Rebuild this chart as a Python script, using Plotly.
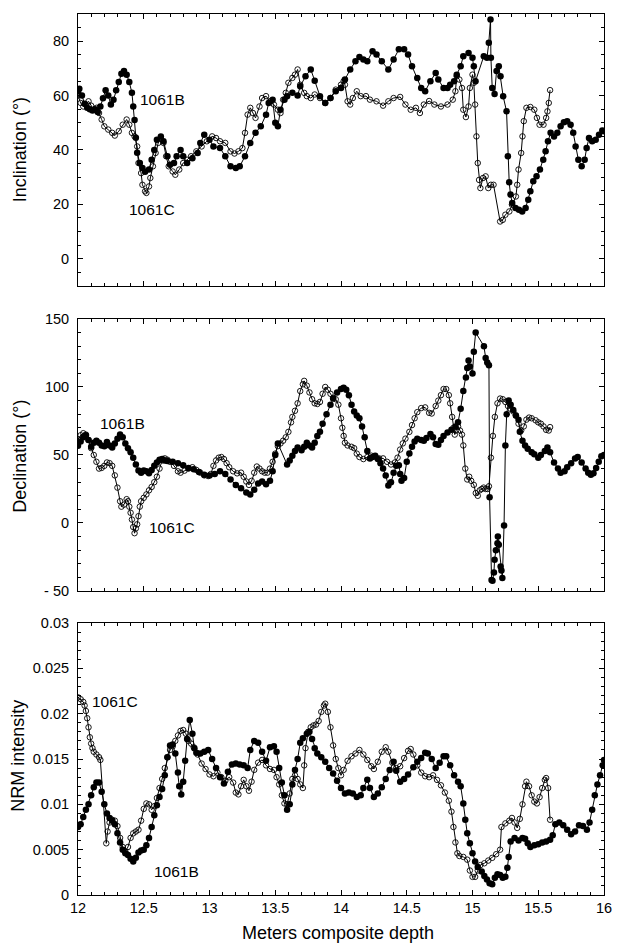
import plotly.graph_objects as go

# ---------------- Inclination ----------------
inc_b_x = [12.00, 12.01, 12.03, 12.05, 12.07, 12.09, 12.11, 12.13, 12.15, 12.17, 12.19, 12.21, 12.23, 12.25, 12.27, 12.29,
           12.31, 12.33, 12.35, 12.37, 12.39, 12.41, 12.42, 12.43, 12.44, 12.45, 12.47, 12.49, 12.51, 12.54, 12.56, 12.58,
           12.60, 12.63, 12.65, 12.68, 12.70, 12.73, 12.75, 12.78, 12.80, 12.83, 12.87, 12.91, 12.93, 12.96, 13.00, 13.03,
           13.08, 13.12, 13.16, 13.20, 13.23, 13.27, 13.31, 13.35, 13.39, 13.43, 13.45, 13.48, 13.50, 13.52, 13.54, 13.57,
           13.59, 13.63, 13.67, 13.69, 13.73, 13.77, 13.80, 13.84, 13.88, 13.92, 13.96, 14.00, 14.03, 14.07, 14.11, 14.14,
           14.17, 14.20, 14.24, 14.27, 14.31, 14.36, 14.40, 14.44, 14.48, 14.51, 14.54, 14.58, 14.61, 14.64, 14.68, 14.72,
           14.74, 14.78, 14.81, 14.83, 14.86, 14.88, 14.91, 14.93, 14.97, 15.00, 15.01, 15.023, 15.086, 15.11, 15.124, 15.137,
           15.14, 15.15, 15.168, 15.183, 15.20, 15.213, 15.233, 15.259, 15.269, 15.279, 15.289, 15.302, 15.327, 15.353, 15.378, 15.404,
           15.424, 15.44, 15.462, 15.487, 15.513, 15.538, 15.556, 15.574, 15.594, 15.62, 15.645, 15.67, 15.695, 15.72, 15.746, 15.766,
           15.784, 15.805, 15.83, 15.853, 15.868, 15.886, 15.91, 15.937, 15.962, 15.987, 16.00]
inc_b_y = [61.5, 62.5, 60, 57, 55.5, 55, 54.5, 55, 54, 56, 59, 62, 60, 56.7, 58.5, 62,
           65, 68, 69, 67.7, 65, 61, 56, 51, 44.5, 39, 35.2, 33.4, 32, 32.8, 36.4, 40,
           43.8, 45, 43.2, 37.7, 34.6, 35.2, 37.7, 40, 37.7, 35.2, 37, 38.9, 42.6, 45.6, 43.8, 41.3,
           40.7, 37.7, 34, 33.4, 34, 37.7, 42.6, 46.3, 48.7, 53, 57.3, 58.5, 50, 48.7, 54.8, 58.5,
           59.8, 61, 60, 63.4, 67.1, 69.6, 65.5, 59.8, 57.3, 59.1, 61.6, 62.8, 65.9, 69.6, 72.6, 74.2,
           73.3, 72.6, 76.3, 75.1, 72.6, 69.6, 73.3, 77, 77, 75.1, 70.8, 66.5, 62.8, 61.6, 65.3, 68.3,
           65.9, 62.8, 62.8, 64, 65.3, 67.7, 70.8, 74.5, 75.7, 73.9, 70.8, 65.3, 74.5, 73.9, 79.4, 88,
           73.9, 62.8, 60.6, 69, 70.8, 67.1, 59.8, 54.2, 37.7, 28.1, 23.6, 20.5, 18.7, 18, 17.4, 18.7,
           21.7, 24.8, 28.5, 30.3, 32.8, 36.4, 39.5, 43.2, 46.3, 45, 46.3, 48.7, 50.2, 50.6, 49.3, 46.3,
           41.3, 36.4, 34, 36.4, 40.7, 44.4, 43.2, 43.8, 45.6, 47.2, 46.9]

inc_c_x = [12.00, 12.02, 12.04, 12.06, 12.08, 12.10, 12.12, 12.14, 12.16, 12.18, 12.20, 12.23, 12.26, 12.28, 12.31, 12.34,
           12.37, 12.39, 12.41, 12.43, 12.45, 12.46, 12.48, 12.49, 12.51, 12.52, 12.54, 12.55, 12.57, 12.59, 12.61, 12.63,
           12.65, 12.67, 12.69, 12.72, 12.74, 12.77, 12.80, 12.83, 12.86, 12.90, 12.94, 12.98, 13.02, 13.05, 13.08, 13.12,
           13.16, 13.19, 13.22, 13.25, 13.27, 13.29, 13.31, 13.33, 13.35, 13.38, 13.40, 13.43, 13.46, 13.49, 13.52, 13.54,
           13.56, 13.58, 13.60, 13.63, 13.65, 13.67, 13.69, 13.72, 13.74, 13.77, 13.80, 13.84, 13.88, 13.92, 13.96, 14.00,
           14.02, 14.03, 14.05, 14.07, 14.09, 14.12, 14.15, 14.19, 14.22, 14.27, 14.32, 14.36, 14.40, 14.45, 14.49, 14.53,
           14.57, 14.60, 14.63, 14.67, 14.71, 14.76, 14.81, 14.85, 14.87, 14.88, 14.90, 14.92, 14.93, 14.95, 14.97, 14.98,
           15.00, 15.01, 15.02, 15.03, 15.04, 15.05, 15.06, 15.08, 15.10, 15.12, 15.14, 15.16, 15.21, 15.23, 15.25, 15.28,
           15.30, 15.33, 15.34, 15.35, 15.37, 15.38, 15.39, 15.41, 15.44, 15.47, 15.49, 15.51, 15.54, 15.56, 15.57, 15.58, 15.59]
inc_c_y = [60, 57.3, 56, 56.7, 57.9, 56.3, 54.8, 55.5, 53.6, 51.2, 48.7, 47.5, 46.3, 45.3, 46.9, 49.3,
           51.2, 49.3, 46.3, 45, 41.3, 35.2, 31.5, 27.2, 24.8, 24.2, 26.6, 29.7, 34, 38.9, 42.6, 44.4,
           42.6, 37.7, 34, 32.1, 30.9, 32.8, 35.2, 36.4, 37.7, 39.5, 41.3, 43.2, 45, 44.4, 43.2, 42.6,
           39.5, 38.7, 39.5, 40.7, 46.3, 53, 55.5, 53.6, 51.8, 56, 59.1, 59.8, 57.9, 56.7, 54.8, 53.6,
           58.5, 61, 64.7, 66.5, 67.7, 69.6, 64, 61, 59.8, 59.1, 60.4, 59.1, 57.3, 59.1, 62.2, 64,
           65.3, 64, 57.9, 56.7, 59.1, 61.6, 59.8, 59.8, 58.5, 57.9, 56.3, 57.9, 59.1, 59.5, 56.7, 54.8,
           55.5, 53.6, 56.7, 58, 56.7, 56, 56.7, 58.5, 61.6, 67.1, 65.9, 62.8, 54.8, 52.1, 56, 62.8,
           67.7, 64.7, 56.7, 45, 35.2, 29, 26, 29.7, 30.3, 26, 27.2, 27.2, 13.7, 14.3, 16.2, 17.4,
           19.9, 22.9, 27.2, 32.8, 38.9, 45, 50.6, 55.5, 55.8, 54.8, 51.8, 49.3, 49.3, 51.8, 54.2, 57.3, 62]

# ---------------- Declination ----------------
dec_b_x = [12.00, 12.02, 12.04, 12.06, 12.08, 12.10, 12.12, 12.14, 12.16, 12.18, 12.20, 12.22, 12.24, 12.26, 12.28, 12.30,
           12.32, 12.34, 12.36, 12.38, 12.40, 12.42, 12.44, 12.46, 12.48, 12.50, 12.52, 12.54, 12.56, 12.58, 12.60, 12.62,
           12.64, 12.66, 12.68, 12.72, 12.76, 12.80, 12.84, 12.88, 12.92, 12.96, 13.00, 13.04, 13.08, 13.12, 13.16, 13.20,
           13.24, 13.28, 13.31, 13.34, 13.37, 13.40, 13.43, 13.46, 13.48, 13.50, 13.52, 13.59, 13.61, 13.63, 13.65, 13.67,
           13.70, 13.72, 13.74, 13.76, 13.78, 13.80, 13.82, 13.84, 13.86, 13.89, 13.92, 13.94, 13.97, 14.00, 14.02, 14.04,
           14.06, 14.08, 14.10, 14.12, 14.14, 14.16, 14.18, 14.20, 14.22, 14.24, 14.26, 14.28, 14.30, 14.32, 14.34, 14.36,
           14.38, 14.40, 14.42, 14.44, 14.45, 14.46, 14.48, 14.50, 14.52, 14.54, 14.56, 14.58, 14.61, 14.63, 14.65, 14.68,
           14.70, 14.72, 14.74, 14.76, 14.78, 14.81, 14.84, 14.87, 14.89, 14.91, 14.93, 14.95, 14.96, 14.97, 14.98, 15.00,
           15.01, 15.024, 15.087, 15.10, 15.112, 15.125, 15.13, 15.145, 15.152, 15.163, 15.168, 15.178, 15.19, 15.193, 15.20, 15.214,
           15.22, 15.227, 15.24, 15.25, 15.26, 15.275, 15.29, 15.31, 15.33, 15.35, 15.36, 15.38, 15.40, 15.42, 15.45, 15.47,
           15.50, 15.52, 15.55, 15.57, 15.59, 15.62, 15.65, 15.67, 15.70, 15.72, 15.75, 15.78, 15.80, 15.83, 15.86, 15.88,
           15.90, 15.92, 15.94, 15.96, 15.98, 16.00]
dec_b_y = [56.8, 60, 63, 64.5, 61, 56, 59, 60.5, 59, 57, 56.5, 59.5, 57, 55.5, 58.5, 62,
           65, 63, 58.5, 55, 52, 48, 43, 38.5, 37, 38.5, 38, 36.5, 39, 42, 44.5, 46.5,
           47, 46, 45.5, 45, 44, 42.5, 40.5, 39.5, 37.5, 35.5, 35, 36, 38, 36, 32, 28,
           25.5, 22.5, 21, 24.5, 29, 30.5, 28.5, 31, 38, 50, 58.5, 43, 46, 49.5, 53, 55.5,
           53.5, 56, 59, 57, 55.5, 59, 64, 67, 73, 80, 87, 91.5, 96, 98.5, 99.5, 98,
           94, 87, 82, 79, 77, 71, 63, 53, 47.5, 48.5, 49.5, 47, 44, 40, 35, 27.5,
           30, 37, 42, 42.5, 36, 31, 33, 45, 51, 56, 60, 62, 61, 60.5, 62.5, 65.5,
           63, 58, 57.5, 61, 64, 66.5, 68.5, 71, 74, 84, 97, 107, 114, 119.5, 115, 110,
           126, 140, 130, 121.4, 118, 116, 19, -42, -42.5, -36.4, -27, -20, -15, -10, -16, -32,
           -35, -40.5, -1.8, 57, 80, 90, 87, 83, 79, 76, 67, 60.5, 57, 54.5, 52, 50.5,
           48, 50, 53, 55.5, 52, 44.5, 40, 37, 38, 41, 44, 47.5, 48.5, 44.5, 40, 37,
           35.5, 36.5, 40.5, 45, 49, 50]

dec_c_x = [12.00, 12.02, 12.04, 12.06, 12.08, 12.10, 12.12, 12.14, 12.16, 12.18, 12.20, 12.22, 12.24, 12.26, 12.28, 12.30,
           12.32, 12.33, 12.35, 12.37, 12.38, 12.39, 12.40, 12.41, 12.42, 12.43, 12.44, 12.45, 12.46, 12.47, 12.48, 12.50,
           12.52, 12.54, 12.56, 12.58, 12.60, 12.62, 12.64, 12.66, 12.68, 12.70, 12.73, 12.76, 12.78, 12.81, 12.84, 12.87,
           12.90, 12.93, 12.96, 12.99, 13.01, 13.03, 13.05, 13.07, 13.09, 13.11, 13.13, 13.15, 13.18, 13.21, 13.24, 13.26,
           13.28, 13.30, 13.32, 13.34, 13.36, 13.38, 13.40, 13.42, 13.44, 13.46, 13.48, 13.50, 13.52, 13.54, 13.56, 13.58,
           13.60, 13.62, 13.63, 13.65, 13.67, 13.69, 13.71, 13.72, 13.74, 13.76, 13.78, 13.80, 13.82, 13.84, 13.86, 13.88,
           13.90, 13.92, 13.94, 13.96, 13.98, 14.00, 14.01, 14.02, 14.03, 14.05, 14.08, 14.10, 14.12, 14.14, 14.17, 14.20,
           14.23, 14.26, 14.29, 14.32, 14.35, 14.38, 14.41, 14.43, 14.45, 14.47, 14.49, 14.52, 14.54, 14.56, 14.58, 14.61,
           14.64, 14.67, 14.69, 14.72, 14.74, 14.76, 14.78, 14.80, 14.82, 14.83, 14.845, 14.855, 14.865, 14.875, 14.89, 14.905,
           14.92, 14.93, 14.945, 14.96, 14.975, 14.99, 15.01, 15.025, 15.04, 15.055, 15.07, 15.085, 15.10, 15.115, 15.125, 15.14,
           15.155, 15.17, 15.19, 15.21, 15.23, 15.25, 15.27, 15.29, 15.31, 15.33, 15.35, 15.37, 15.39, 15.41, 15.43, 15.45,
           15.48, 15.50, 15.52, 15.54, 15.56, 15.58, 15.59]
dec_c_y = [61.5, 64.5, 66, 65, 61, 55, 50, 45, 40, 40.5, 42, 44.5, 44, 42, 35, 26,
           16, 12, 13.5, 17.5, 16, 12, 7.5, 2.5, -3, -7.5, -4, -1, 5, 12, 16, 18.5,
           21, 24, 26.5, 30, 34, 40, 46, 47.5, 46.5, 45, 42, 38, 37, 38.5, 40, 41,
           39, 37, 35, 34.5, 36, 42, 46, 48, 48.5, 47, 44, 41, 38, 36.5, 37, 34,
           30.5, 28, 31, 37, 41.5, 40, 38, 37, 37, 40, 45, 51, 56.5, 58.5, 60.5, 63,
           67, 74, 78, 82.5, 88, 97, 102, 104.5, 101, 96, 91, 88, 87.5, 89, 95, 100,
           98, 95, 92, 91, 87, 77, 70, 64, 59, 57, 56, 55, 51, 48.5, 47, 48.5,
           49.5, 49, 47.5, 47.5, 45, 43, 44.5, 48, 54, 58.5, 62, 67, 72, 77, 81.5, 84.5,
           85, 81, 80.5, 86, 90, 94, 98.5, 98.5, 94, 88, 78, 70, 65, 68, 71, 68,
           65, 57, 40, 32, 34, 31, 28, 22, 20, 24, 25, 26, 25, 25, 27, 48,
           64, 78, 88, 91.5, 91, 89, 86, 84, 82, 79, 73, 68, 71, 76, 77.5, 77,
           75.5, 74, 73, 71, 68.5, 68, 70.5]

# ---------------- NRM intensity ----------------
nrm_b_x = [12.00, 12.02, 12.04, 12.06, 12.08, 12.10, 12.12, 12.14, 12.16, 12.18, 12.20, 12.22, 12.24, 12.26, 12.28, 12.30,
           12.32, 12.34, 12.36, 12.38, 12.40, 12.42, 12.44, 12.46, 12.48, 12.50, 12.52, 12.54, 12.56, 12.58, 12.60, 12.62,
           12.64, 12.66, 12.68, 12.70, 12.72, 12.74, 12.76, 12.77, 12.785, 12.80, 12.815, 12.83, 12.85, 12.87, 12.885, 12.90,
           12.93, 12.96, 12.99, 13.02, 13.05, 13.08, 13.11, 13.14, 13.17, 13.20, 13.23, 13.26, 13.29, 13.31, 13.34, 13.37,
           13.40, 13.43, 13.46, 13.49, 13.51, 13.53, 13.55, 13.57, 13.59, 13.61, 13.63, 13.65, 13.67, 13.69, 13.71, 13.74,
           13.76, 13.78, 13.80, 13.82, 13.85, 13.88, 13.91, 13.94, 13.97, 14.00, 14.03, 14.06, 14.09, 14.12, 14.15, 14.17,
           14.20, 14.22, 14.25, 14.28, 14.31, 14.34, 14.37, 14.40, 14.42, 14.45, 14.48, 14.51, 14.55, 14.58, 14.61, 14.64,
           14.66, 14.69, 14.72, 14.75, 14.78, 14.80, 14.83, 14.86, 14.89, 14.91, 14.93, 14.945, 14.96, 14.98, 15.00, 15.02,
           15.04, 15.07, 15.09, 15.11, 15.13, 15.15, 15.17, 15.19, 15.21, 15.23, 15.25, 15.265, 15.275, 15.29, 15.32, 15.35,
           15.38, 15.40, 15.42, 15.44, 15.47, 15.50, 15.53, 15.56, 15.59, 15.61, 15.63, 15.66, 15.69, 15.72, 15.75, 15.78,
           15.81, 15.84, 15.87, 15.89, 15.91, 15.93, 15.95, 15.97, 15.99, 16.00]
nrm_b_y = [0.0075, 0.0078, 0.0086, 0.0094, 0.0100, 0.0110, 0.0119, 0.0124, 0.0124, 0.0114, 0.0100, 0.0090, 0.0085, 0.0082, 0.0078, 0.0068,
           0.0058, 0.0050, 0.0046, 0.0044, 0.0040, 0.0037, 0.0041, 0.0047, 0.0049, 0.0050, 0.0055, 0.0063, 0.0075, 0.0088, 0.0099, 0.0108,
           0.0117, 0.0132, 0.0152, 0.0165, 0.0166, 0.0156, 0.0135, 0.0120, 0.0111, 0.0125, 0.0148, 0.0172, 0.0193, 0.0178, 0.0162, 0.0157,
           0.0156, 0.0158, 0.0160, 0.0150, 0.0140, 0.0130, 0.0123, 0.0136, 0.0144, 0.0145, 0.0144, 0.0143, 0.0140, 0.0160, 0.0170, 0.0168,
           0.0158, 0.0148, 0.0163, 0.0164, 0.0158, 0.0140, 0.0124, 0.0110, 0.0094, 0.0100, 0.0122, 0.0138, 0.0150, 0.0168, 0.0173, 0.0178,
           0.0180, 0.0172, 0.0162, 0.0156, 0.0152, 0.0147, 0.0140, 0.0134, 0.0126, 0.0118, 0.0112, 0.0113, 0.0112, 0.0108, 0.0110, 0.0118,
           0.0127, 0.0118, 0.0108, 0.0112, 0.0119, 0.0128, 0.0138, 0.0147, 0.0137, 0.0125, 0.0128, 0.0133, 0.0141, 0.0147, 0.0151, 0.0157,
           0.0156, 0.0150, 0.0140, 0.0146, 0.0153, 0.0153, 0.0143, 0.0132, 0.0125, 0.0120, 0.0101, 0.0083, 0.0068, 0.0057, 0.0046, 0.0037,
           0.0031, 0.0026, 0.0021, 0.0017, 0.0013, 0.0012, 0.0019, 0.0023, 0.0022, 0.0019, 0.0020, 0.0030, 0.0042, 0.0059, 0.0063, 0.0060,
           0.0063, 0.0062, 0.0057, 0.0053, 0.0055, 0.0056, 0.0058, 0.0059, 0.0061, 0.0066, 0.0078, 0.0080, 0.0077, 0.0072, 0.0067, 0.0070,
           0.0077, 0.0076, 0.0072, 0.0080, 0.0094, 0.0110, 0.0122, 0.0132, 0.0143, 0.0149]

nrm_c_x = [12.00, 12.02, 12.04, 12.05, 12.06, 12.07, 12.08, 12.09, 12.10, 12.11, 12.12, 12.14, 12.16, 12.17, 12.215, 12.225,
           12.24, 12.26, 12.28, 12.30, 12.32, 12.34, 12.36, 12.38, 12.40, 12.42, 12.44, 12.46, 12.48, 12.50, 12.52, 12.54,
           12.56, 12.58, 12.60, 12.62, 12.64, 12.66, 12.68, 12.70, 12.72, 12.74, 12.76, 12.78, 12.80, 12.82, 12.84, 12.86,
           12.88, 12.91, 12.94, 12.97, 13.00, 13.03, 13.06, 13.09, 13.12, 13.15, 13.18, 13.20, 13.22, 13.24, 13.26, 13.28,
           13.30, 13.32, 13.34, 13.37, 13.40, 13.43, 13.46, 13.49, 13.51, 13.53, 13.55, 13.57, 13.59, 13.61, 13.63, 13.65,
           13.67, 13.69, 13.71, 13.72, 13.73, 13.75, 13.77, 13.79, 13.81, 13.83, 13.85, 13.87, 13.88, 13.90, 13.92, 13.94,
           13.96, 13.98, 14.00, 14.02, 14.05, 14.08, 14.11, 14.14, 14.17, 14.20, 14.23, 14.25, 14.28, 14.31, 14.34, 14.36,
           14.39, 14.42, 14.45, 14.48, 14.51, 14.53, 14.55, 14.58, 14.61, 14.64, 14.67, 14.70, 14.73, 14.76, 14.79, 14.82,
           14.84, 14.855, 14.87, 14.885, 14.90, 14.93, 14.96, 14.98, 15.00, 15.02, 15.04, 15.06, 15.09, 15.12, 15.15, 15.18,
           15.21, 15.22, 15.25, 15.28, 15.30, 15.32, 15.34, 15.36, 15.38, 15.40, 15.41, 15.43, 15.45, 15.47, 15.49, 15.51,
           15.53, 15.55, 15.56, 15.575, 15.59]
nrm_c_y = [0.0218, 0.0216, 0.0213, 0.0209, 0.0203, 0.0195, 0.0185, 0.0174, 0.0167, 0.0162, 0.0158, 0.0155, 0.0152, 0.0149, 0.0057, 0.0070,
           0.0080, 0.0083, 0.0082, 0.0076, 0.0063, 0.0053, 0.0048, 0.0053, 0.0063, 0.0068, 0.0070, 0.0072, 0.0082, 0.0095, 0.0101, 0.0100,
           0.0094, 0.0098, 0.0107, 0.0118, 0.0128, 0.0140, 0.0152, 0.0160, 0.0164, 0.0170, 0.0176, 0.0181, 0.0182, 0.0178, 0.0170, 0.0167,
           0.0163, 0.0155, 0.0145, 0.0139, 0.0133, 0.0131, 0.0135, 0.0130, 0.0126, 0.0130, 0.0124, 0.0113, 0.0111, 0.0120, 0.0127, 0.0120,
           0.0115, 0.0125, 0.0138, 0.0146, 0.0149, 0.0143, 0.0139, 0.0138, 0.0130, 0.0122, 0.0110, 0.0101, 0.0100, 0.0112, 0.0128, 0.0132,
           0.0128, 0.0122, 0.0118, 0.0143, 0.0162, 0.0180, 0.0185, 0.0187, 0.0188, 0.0192, 0.0202, 0.0209, 0.0211, 0.0202, 0.0185, 0.0165,
           0.0150, 0.0140, 0.0132, 0.0138, 0.0148, 0.0153, 0.0156, 0.0160, 0.0155, 0.0149, 0.0142, 0.0139, 0.0147, 0.0158, 0.0163, 0.0158,
           0.0146, 0.0140, 0.0142, 0.0151, 0.0159, 0.0161, 0.0155, 0.0143, 0.0135, 0.0131, 0.0130, 0.0132, 0.0127, 0.0121, 0.0113, 0.0104,
           0.0092, 0.0075, 0.0058, 0.0046, 0.0043, 0.0042, 0.0039, 0.0027, 0.0020, 0.0020, 0.0027, 0.0033, 0.0035, 0.0038, 0.0041, 0.0045,
           0.0050, 0.0075, 0.0079, 0.0082, 0.0085, 0.0080, 0.0074, 0.0084, 0.0100, 0.0120, 0.0125, 0.0120, 0.0110, 0.0103, 0.0101, 0.0108,
           0.0118, 0.0127, 0.0129, 0.0118, 0.0083]

inc_ticks = [0, 20, 40, 60, 80]
dec_ticks = [-50, 0, 50, 100, 150]
dec_ticktext = ["- 50", "0", "50", "100", "150"]
nrm_ticks = [0, 0.005, 0.01, 0.015, 0.02, 0.025, 0.03]
nrm_ticktext = ["0", "0.005", "0.01", "0.015", "0.02", "0.025", "0.03"]
depth_ticks = [12, 12.5, 13, 13.5, 14, 14.5, 15, 15.5, 16]
depth_ticktext = ["12", "12.5", "13", "13.5", "14", "14.5", "15", "15.5", "16"]

FONT = "Liberation Sans, Arial, Helvetica, sans-serif"

fig = go.Figure()

def add(x, y, filled, n):
    xa = "x" if n == 1 else "x%d" % n
    ya = "y" if n == 1 else "y%d" % n
    if filled:
        marker = dict(symbol="circle", size=6.5, color="black", line=dict(width=0))
    else:
        marker = dict(symbol="circle-open", size=5.5, color="black", line=dict(width=0.9, color="black"))
    fig.add_trace(go.Scatter(x=x, y=y, mode="lines+markers", xaxis=xa, yaxis=ya,
                             line=dict(color="black", width=1), marker=marker,
                             showlegend=False, hoverinfo="skip"))

add(inc_c_x, inc_c_y, False, 1)
add(inc_b_x, inc_b_y, True, 1)
add(dec_c_x, dec_c_y, False, 2)
add(dec_b_x, dec_b_y, True, 2)
add(nrm_c_x, nrm_c_y, False, 3)
add(nrm_b_x, nrm_b_y, True, 3)

def xaxis(anchor, labels):
    return dict(range=[12, 16], anchor=anchor, tickvals=depth_ticks, ticktext=depth_ticktext,
                showticklabels=labels, ticks="inside", ticklen=5, tickcolor="black", tickwidth=1,
                showline=True, linecolor="black", linewidth=1, mirror="allticks",
                showgrid=False, zeroline=False, automargin=False,
                minor=dict(dtick=0.1, tick0=12, ticks="inside", ticklen=3, tickcolor="black", tickwidth=1),
                tickfont=dict(family=FONT, size=14.5, color="black"))

def yaxis(rng, dom, vals, text, mdt, anchor):
    return dict(range=rng, domain=dom, anchor=anchor, tickvals=vals, ticktext=text,
                ticks="inside", ticklen=5, tickcolor="black", tickwidth=1,
                showline=True, linecolor="black", linewidth=1, mirror="allticks",
                showgrid=False, zeroline=False, automargin=False,
                minor=dict(dtick=mdt, tick0=0, ticks="inside", ticklen=3, tickcolor="black", tickwidth=1),
                tickfont=dict(family=FONT, size=14.5, color="black"), ticklabelstandoff=5)

# the page body has an 8px margin on every side: size the figure so it fits the 629x951 window exactly
fig.update_layout(
    width=613, height=935, autosize=False,
    margin=dict(l=70, r=17, t=6, b=48, autoexpand=False),
    paper_bgcolor="white", plot_bgcolor="white",
    xaxis=xaxis("y", False),
    xaxis2=xaxis("y2", False),
    xaxis3=xaxis("y3", True),
    yaxis=yaxis([-10, 90], [0.6913, 1.0], inc_ticks, [str(v) for v in inc_ticks], 5, "x"),
    yaxis2=yaxis([-50, 150], [0.3451, 0.6538], dec_ticks, dec_ticktext, 10, "x2"),
    yaxis3=yaxis([0, 0.03], [0.0, 0.3087], nrm_ticks, nrm_ticktext, 0.001, "x3"),
)

ann_font = dict(family=FONT, size=15.5, color="black")
title_font = dict(family=FONT, size=18, color="black")
annotations = [
    dict(x=12.46, y=58.5, xref="x", yref="y", text="1061B", showarrow=False, xanchor="left", yanchor="middle", font=ann_font),
    dict(x=12.37, y=18.0, xref="x", yref="y", text="1061C", showarrow=False, xanchor="left", yanchor="middle", font=ann_font),
    dict(x=12.155, y=72.9, xref="x2", yref="y2", text="1061B", showarrow=False, xanchor="left", yanchor="middle", font=ann_font),
    dict(x=12.527, y=-3.3, xref="x2", yref="y2", text="1061C", showarrow=False, xanchor="left", yanchor="middle", font=ann_font),
    dict(x=12.094, y=0.0213, xref="x3", yref="y3", text="1061C", showarrow=False, xanchor="left", yanchor="middle", font=ann_font),
    dict(x=12.565, y=0.00257, xref="x3", yref="y3", text="1061B", showarrow=False, xanchor="left", yanchor="middle", font=ann_font),
    dict(x=-0.11, y=0.8456, xref="paper", yref="paper", text="Inclination (°)", textangle=-90, showarrow=False,
         xanchor="center", yanchor="middle", font=title_font),
    dict(x=-0.11, y=0.4975, xref="paper", yref="paper", text="Declination (°)", textangle=-90, showarrow=False,
         xanchor="center", yanchor="middle", font=title_font),
    dict(x=-0.114, y=0.158, xref="paper", yref="paper", text="NRM intensity", textangle=-90, showarrow=False,
         xanchor="center", yanchor="middle", font=title_font),
    dict(x=0.495, y=-0.043, xref="paper", yref="paper", text="Meters composite depth", showarrow=False,
         xanchor="center", yanchor="middle", font=title_font),
]
fig.update_layout(annotations=annotations)

fig.write_html("out.html")
